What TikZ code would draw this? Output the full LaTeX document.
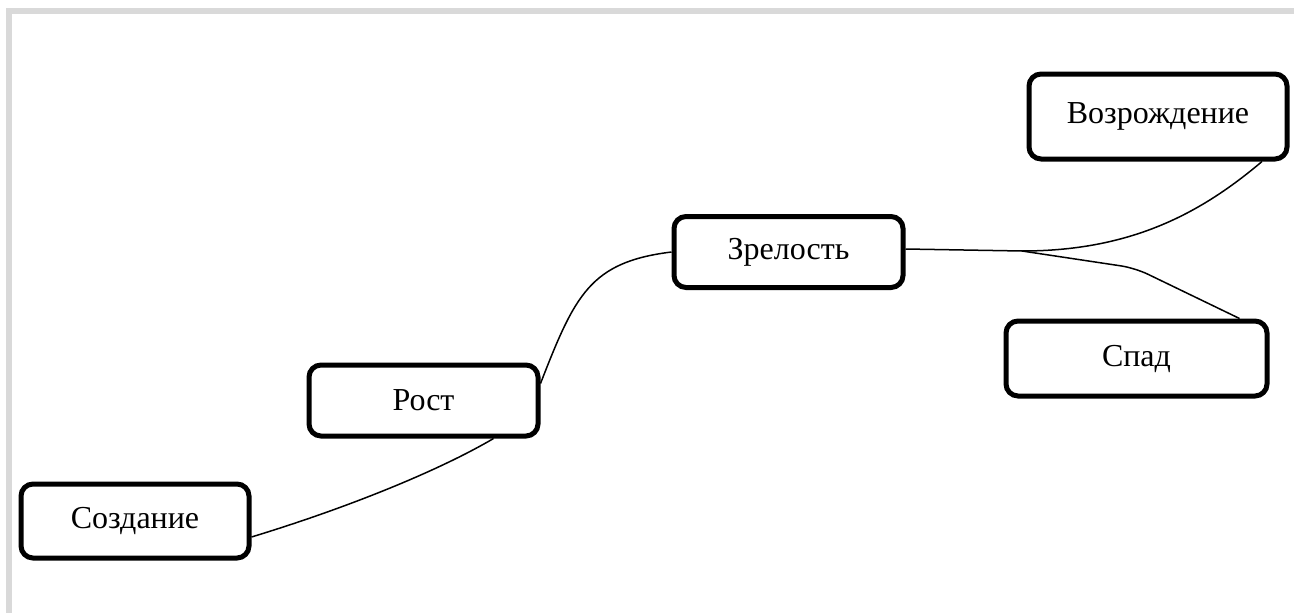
\documentclass[tikz,border=0pt]{standalone}
\usepackage{fontspec}
\setmainfont{Liberation Serif}
\begin{document}
\begin{tikzpicture}[x=1pt,y=-1pt,
  stage/.style={draw=black, line width=5pt, rounded corners=12pt, fill=white,
    inner sep=0pt, font=\fontsize{32}{36}\selectfont},
  link/.style={draw=black, line width=1.5pt},
  frame/.style={draw=gray!30, line width=5.5pt}]
\useasboundingbox (0,0) rectangle (1294,613);
% light frame along the top and the left
\draw[frame] (9,613) -- (9,11) -- (1294,11);
% stages
\node[stage, minimum width=228pt, minimum height=74pt] (sozd) at (135,521) {Создание};
\node[stage, minimum width=229pt, minimum height=71pt] (rost) at (423.5,400.5) {Рост};
\node[stage, minimum width=229pt, minimum height=71pt] (zrel) at (788.5,252) {Зрелость};
\node[stage, minimum width=258pt, minimum height=85pt] (vozr) at (1158,116.5) {Возрождение};
\node[stage, minimum width=261pt, minimum height=75pt] (spad) at (1136.5,358.5) {Спад};
\coordinate (fork) at (1022,251);
% connectors
\draw[link] ([yshift=-16pt]sozd.east) .. controls (350,507) and (440,470) .. ([xshift=70pt]rost.south);
\draw[link] ([yshift=17pt]rost.east) .. controls (575,295) and (590,262) .. (zrel.west);
\draw[link] ([yshift=3pt]zrel.east) -- (fork);
\draw[link] (fork) .. controls (1130,251) and (1200,214) .. ([xshift=104pt]vozr.south);
\draw[link, rounded corners=14pt] (fork) -- (1135,268) -- ([xshift=103pt]spad.north);
\end{tikzpicture}
\end{document}
